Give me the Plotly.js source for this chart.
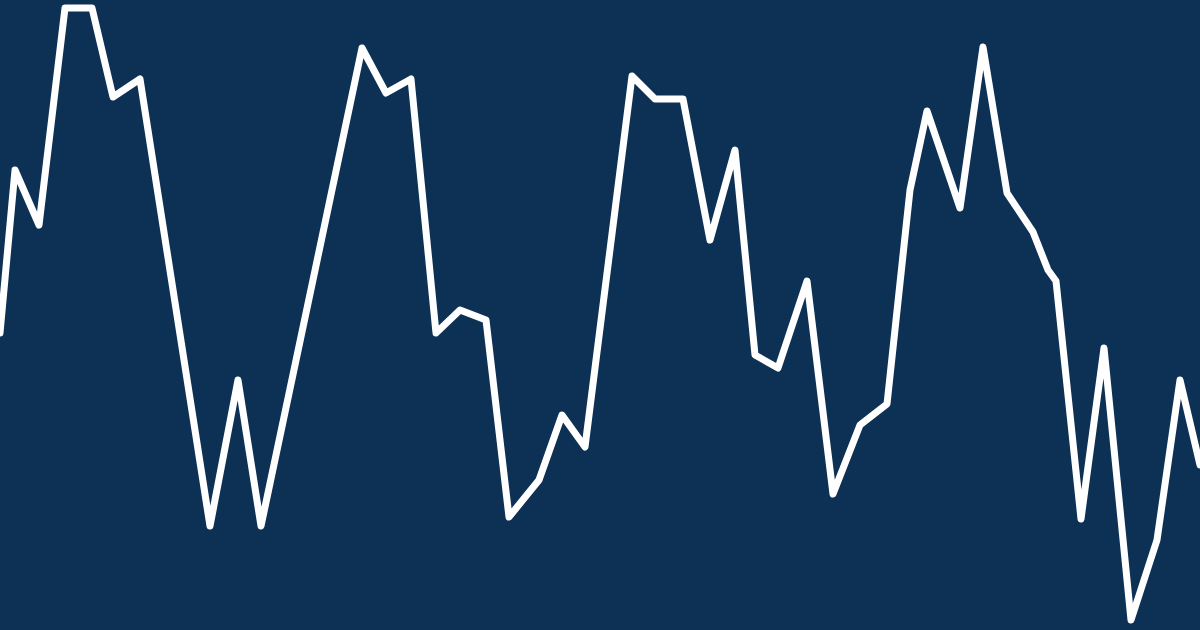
<!DOCTYPE html>
<html>
<head>
<meta charset="utf-8">
<script src="https://cdn.plot.ly/plotly-3.0.1.min.js"></script>
<style>
html,body{margin:0;padding:0;background:#0d3055;}
#chart{width:1200px;height:630px;}
.scatterlayer path.js-line{stroke-linejoin:round !important;stroke-linecap:round !important;}
</style>
</head>
<body>
<div id="chart"></div>
<script>
const xValues = [0, 15, 39, 65, 92, 113, 140, 210, 238, 261, 362, 386, 411, 436, 460, 486, 509, 539, 562, 585, 632, 655, 683, 710, 735, 755, 778, 807, 833, 860, 887, 910, 927, 960, 983, 1007, 1033, 1041, 1048, 1056, 1081, 1104, 1131, 1157, 1180, 1200];
const yValues = [297, 460, 405, 622, 622, 533, 551, 104, 250, 104, 582, 537, 551, 297, 320, 310, 113, 150, 215, 183, 554, 531, 531, 390, 480, 275, 262, 349, 136, 205, 226, 440, 519, 422, 583, 437, 398, 375, 360, 349, 111, 282, 10, 90, 250, 165];

const trace = {
  x: xValues, y: yValues, type: 'scatter', mode: 'lines',
  line: {color: '#ffffff', width: 7, shape: 'linear'},
  hoverinfo: 'skip'
};
const layout = {
  width: 1200, height: 630,
  margin: {l: 0, r: 0, t: 0, b: 0},
  paper_bgcolor: '#0d3055', plot_bgcolor: '#0d3055',
  xaxis: {range: [0, 1200], visible: false, fixedrange: true},
  yaxis: {range: [0, 630], visible: false, fixedrange: true},
  showlegend: false
};
Plotly.newPlot('chart', [trace], layout, {displayModeBar: false, staticPlot: true});
</script>
</body>
</html>
